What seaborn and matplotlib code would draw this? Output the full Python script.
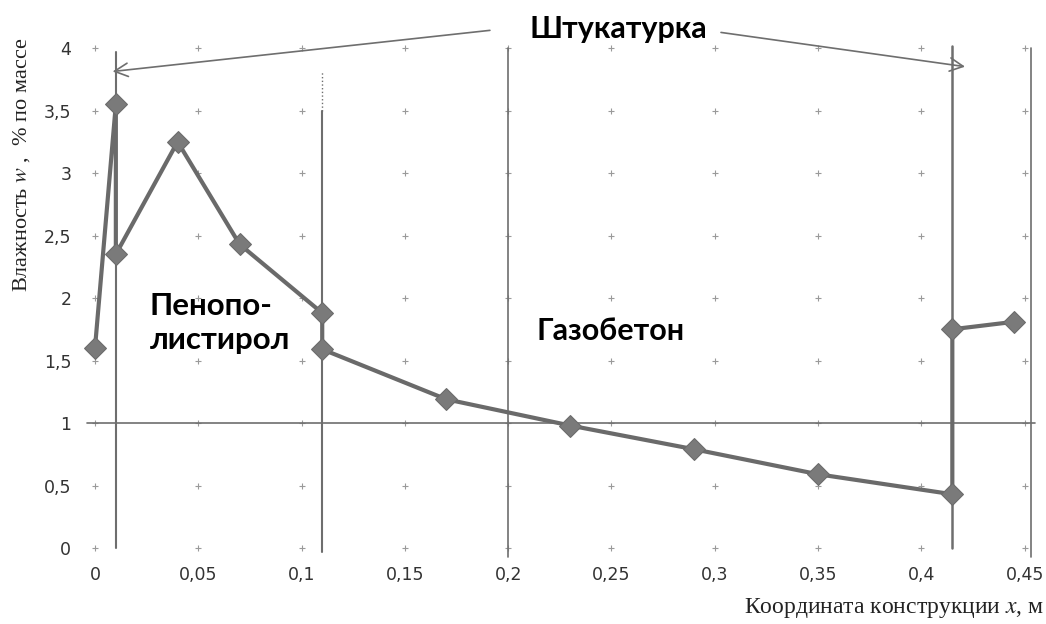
import numpy as np
import pandas as pd
import seaborn as sns
import matplotlib.pyplot as plt

# moisture profile through the wall
x_coord = [0.0, 0.0101, 0.0101, 0.04, 0.07, 0.11, 0.11, 0.17, 0.23, 0.29, 0.35, 0.415, 0.415, 0.445]
moisture = [1.60, 3.55, 2.35, 3.25, 2.43, 1.88, 1.59, 1.19, 0.98, 0.79, 0.59, 0.43, 1.75, 1.81]

x_ticks = [0, 0.05, 0.1, 0.15, 0.2, 0.25, 0.3, 0.35, 0.4, 0.45]
x_tick_labels = ['0', '0,05', '0,1', '0,15', '0,2', '0,25', '0,3', '0,35', '0,4', '0,45']
y_ticks = [0, 0.5, 1, 1.5, 2, 2.5, 3, 3.5, 4]
y_tick_labels = ['0', '0,5', '1', '1,5', '2', '2,5', '3', '3,5', '4']

df = pd.DataFrame({'x': x_coord, 'w': moisture})

sns.set_style('white')
plt.rcParams['font.family'] = ['DejaVu Sans']
plt.rcParams['mathtext.fontset'] = 'stix'

fig = plt.figure(figsize=(10.46, 6.24), dpi=100)
ax = fig.add_axes([0.0908, 0.1218, 0.8947, 0.8012])
gray = '#6e6e6e'

# "+" marks at grid crossings
gx, gy = np.meshgrid(x_ticks, y_ticks)
ax.scatter(gx.ravel(), gy.ravel(), marker='+', s=18, color='#9a9a9a', linewidths=0.8, zorder=1, clip_on=False)

# layer boundaries and reference lines
ax.plot([0.0101, 0.0101], [0, 3.97], color=gray, lw=1.5, clip_on=False, zorder=2)
ax.plot([0.11, 0.11], [-0.03, 3.5], color=gray, lw=1.5, clip_on=False, zorder=2)
ax.plot([0.11, 0.11], [3.5, 3.81], color=gray, lw=1.0, ls=':', clip_on=False, zorder=2)
ax.plot([0.2, 0.2], [-0.07, 4.0], color=gray, lw=1.2, clip_on=False, zorder=2)
ax.plot([0.415, 0.415], [0.0, 4.02], color=gray, lw=1.8, clip_on=False, zorder=2)
ax.plot([0.453, 0.453], [-0.07, 4.0], color=gray, lw=1.2, clip_on=False, zorder=2)
ax.plot([-0.004, 0.455], [1, 1], color=gray, lw=1.2, clip_on=False, zorder=2)

sns.lineplot(data=df, x='x', y='w', sort=False, estimator=None, ax=ax,
             color='#6a6a6a', lw=3, marker='D', markersize=11,
             markeredgecolor='#6a6a6a', markerfacecolor='#7a7a7a', zorder=3, clip_on=False)

ax.set_xlim(0, 0.453)
ax.set_ylim(0, 4)
ax.set_xticks(x_ticks)
ax.set_xticklabels(x_tick_labels)
ax.set_yticks(y_ticks)
ax.set_yticklabels(y_tick_labels)
ax.tick_params(axis='x', length=0, pad=13, labelsize=12.5, colors='#333333')
ax.tick_params(axis='y', length=0, pad=17, labelsize=12.5, colors='#333333')
for s in ax.spines.values():
    s.set_visible(False)
ax.set_xlabel('')
ax.set_ylabel('')

serif = ['Liberation Serif', 'DejaVu Serif']
fig.text(0.021, 0.735, r'Влажность $\it{w}$ ,  % по массе', rotation=90, ha='center', va='center',
         fontsize=16, family=serif, color='#222222')
fig.text(0.998, 0.025, r'Координата конструкции $\it{x}$, м', ha='right', va='center',
         fontsize=17, family=serif, color='#222222')

bold = ['Lato', 'DejaVu Sans']
ax.text(0.2535, 4.15, 'Штукатурка', ha='center', va='center', fontsize=22,
        fontweight='bold', family=bold, color='black', clip_on=False)
ax.text(0.0265, 1.8, 'Пенопо-\nлистирол', ha='left', va='center', fontsize=22.5,
        fontweight='bold', family=bold, color='black', linespacing=1.25)
ax.text(0.2497, 1.74, 'Газобетон', ha='center', va='center', fontsize=22,
        fontweight='bold', family=bold, color='black')

arrow = dict(arrowstyle='->', color=gray, lw=1.2, mutation_scale=24)
ax.annotate('', xy=(0.0072, 3.81), xytext=(0.1925, 4.144), arrowprops=arrow, annotation_clip=False)
ax.annotate('', xy=(0.4225, 3.848), xytext=(0.3017, 4.128), arrowprops=arrow, annotation_clip=False)

fig.savefig('out.png', dpi=100)
